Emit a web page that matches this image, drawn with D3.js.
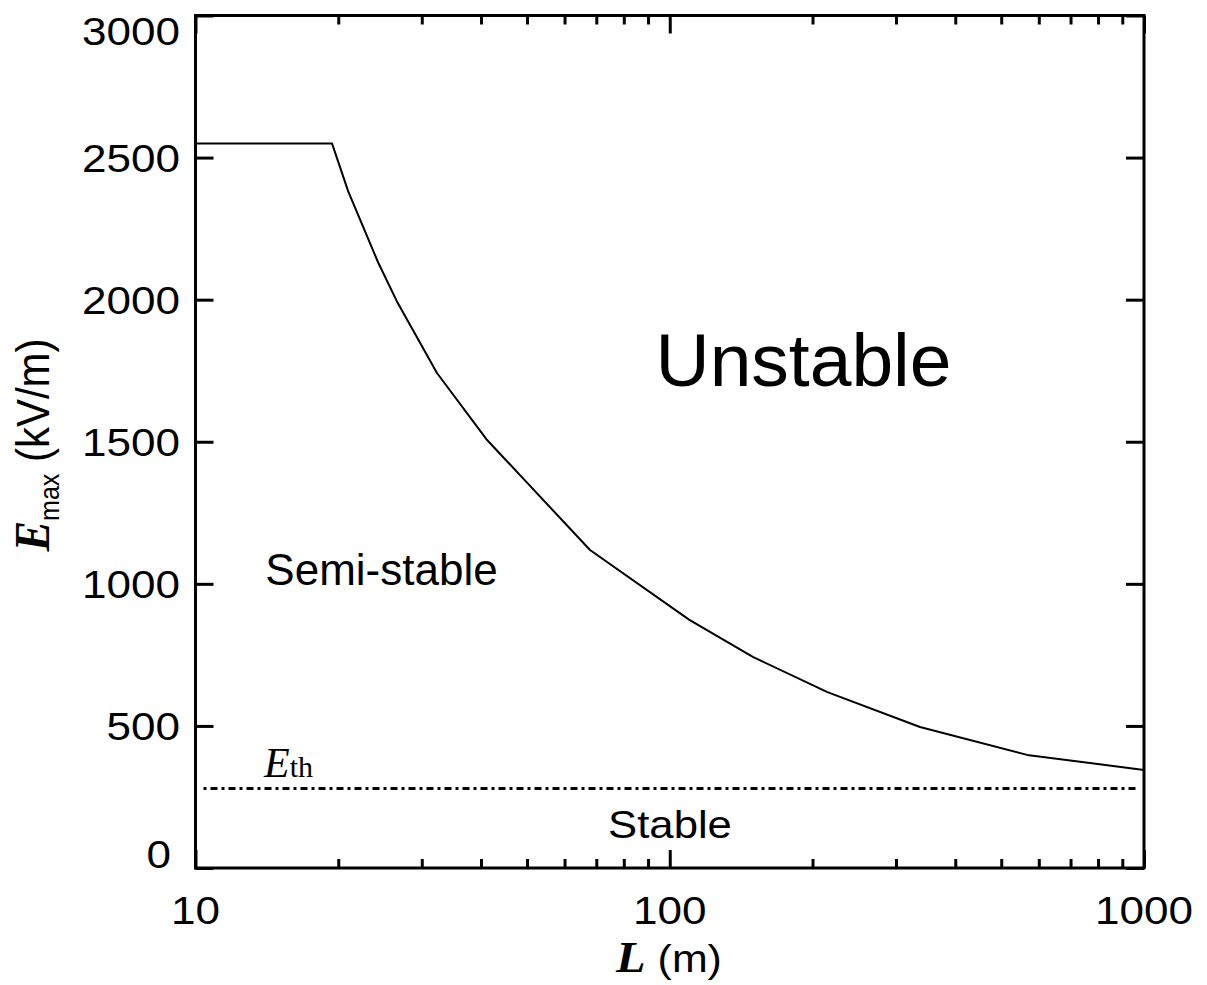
<!DOCTYPE html>
<html>
<head>
<meta charset="utf-8">
<script src="https://cdn.jsdelivr.net/npm/d3@7"></script>
<style>
  body { margin: 0; background: #fff; }
  text { fill: #000; }
</style>
</head>
<body>
<svg id="chart" width="1207" height="985"></svg>
<script>
// Stability boundary: maximum field E_max (kV/m) versus length L (m)
const lengthM = [10, 19.4, 21, 24.3, 26.7, 32.3, 41.2, 49, 67.9, 110, 150, 215, 337, 567, 1000];
const eMax    = [2550, 2550, 2380, 2129, 1988, 1742, 1506, 1372, 1119, 873, 742, 619, 496, 398, 345];

// Threshold field E_th (dotted line)
const eThreshold = 280;

// Axis ticks
const yTicks = [0, 500, 1000, 1500, 2000, 2500, 3000];
const xMajor = [10, 100, 1000];
const xMinor = [20, 30, 40, 50, 60, 70, 80, 90, 200, 300, 400, 500, 600, 700, 800, 900];

// Region names
const regionNames = ["Unstable", "Semi-stable", "Stable"];

const svg = d3.select("#chart");
const plotLeft = 195.5, plotRight = 1144, plotTop = 15.5, plotBottom = 868;

const x = d3.scaleLog().domain([10, 1000]).range([plotLeft, plotRight]);
const y = d3.scaleLinear().domain([0, 3000]).range([plotBottom, plotTop]);

const SANS = "'Liberation Sans', Arial, Helvetica, sans-serif";
const SERIF = "'Liberation Serif', 'Times New Roman', serif";

// ---- ticks (pointing inward) ----
function styleAxis(g) {
  g.select(".domain").remove();
  g.selectAll(".tick line").attr("stroke", "#000").attr("stroke-width", 3);
}
svg.append("g").attr("transform", `translate(${plotLeft},0)`)
  .call(d3.axisLeft(y).tickValues(yTicks).tickSize(-18).tickSizeOuter(0).tickFormat(""))
  .call(styleAxis);
svg.append("g").attr("transform", `translate(${plotRight},0)`)
  .call(d3.axisRight(y).tickValues(yTicks).tickSize(-18).tickSizeOuter(0).tickFormat(""))
  .call(styleAxis);
svg.append("g").attr("transform", `translate(0,${plotBottom})`)
  .call(d3.axisBottom(x).tickValues(xMajor).tickSize(-18).tickSizeOuter(0).tickFormat(""))
  .call(styleAxis);
svg.append("g").attr("transform", `translate(0,${plotBottom})`)
  .call(d3.axisBottom(x).tickValues(xMinor).tickSize(-9).tickSizeOuter(0).tickFormat(""))
  .call(styleAxis);
svg.append("g").attr("transform", `translate(0,${plotTop})`)
  .call(d3.axisTop(x).tickValues(xMajor).tickSize(-18).tickSizeOuter(0).tickFormat(""))
  .call(styleAxis);
svg.append("g").attr("transform", `translate(0,${plotTop})`)
  .call(d3.axisTop(x).tickValues(xMinor).tickSize(-9).tickSizeOuter(0).tickFormat(""))
  .call(styleAxis);

// ---- frame ----
svg.append("rect")
  .attr("x", plotLeft).attr("y", plotTop)
  .attr("width", plotRight - plotLeft).attr("height", plotBottom - plotTop)
  .attr("fill", "none").attr("stroke", "#000").attr("stroke-width", 3);

// ---- tick labels ----
const stretch = 1.13;
svg.append("g").selectAll("text")
  .data(yTicks)
  .join("text")
  .attr("transform", d => {
    let bx = 180, by = y(d) + 14;
    if (d === 0) { bx = 171; by = y(d); }
    if (d === 3000) { by = y(d) + 29.5; }
    return `translate(${bx},${by}) scale(${stretch},1)`;
  })
  .attr("text-anchor", "end")
  .attr("font-family", SANS).attr("font-size", 39)
  .text(d => d);

svg.append("g").selectAll("text")
  .data(xMajor)
  .join("text")
  .attr("transform", d => `translate(${x(d)},924) scale(${stretch},1)`)
  .attr("text-anchor", "middle")
  .attr("font-family", SANS).attr("font-size", 39)
  .text(d => d);

// ---- threshold line ----
svg.append("line")
  .attr("x1", x(10) + 8).attr("x2", x(1000) - 6)
  .attr("y1", y(eThreshold)).attr("y2", y(eThreshold))
  .attr("stroke", "#000").attr("stroke-width", 3)
  .attr("stroke-dasharray", "3,4,7,4");

// ---- boundary curve ----
const pts = lengthM.map((L, i) => [L, eMax[i]]);
svg.append("path")
  .datum(pts)
  .attr("d", d3.line().x(d => x(d[0])).y(d => y(d[1])))
  .attr("fill", "none").attr("stroke", "#000").attr("stroke-width", 2)
  .attr("stroke-linejoin", "round");

// ---- region labels ----
svg.append("text")
  .attr("x", 803.5).attr("y", 386)
  .attr("text-anchor", "middle")
  .attr("font-family", SANS).attr("font-size", 75)
  .text(regionNames[0]);
svg.append("text")
  .attr("x", 381.5).attr("y", 585)
  .attr("text-anchor", "middle")
  .attr("font-family", SANS).attr("font-size", 44)
  .text(regionNames[1]);
svg.append("text")
  .attr("transform", `translate(670,838) scale(1.12,1)`)
  .attr("text-anchor", "middle")
  .attr("font-family", SANS).attr("font-size", 39)
  .text(regionNames[2]);

// ---- E_th label ----
const eth = svg.append("text").attr("x", 264).attr("y", 777);
eth.append("tspan").attr("font-family", SERIF).attr("font-style", "italic").attr("font-size", 42).text("E");
eth.append("tspan").attr("font-family", SERIF).attr("font-size", 30).text("th");

// ---- axis titles ----
const yt = svg.append("text")
  .attr("transform", "translate(49,445) rotate(-90) scale(1,1.08)")
  .attr("text-anchor", "middle");
yt.append("tspan").attr("font-family", SERIF).attr("font-style", "italic").attr("font-weight", "bold").attr("font-size", 46).text("E");
yt.append("tspan").attr("font-family", SANS).attr("font-size", 25).attr("dy", 9).text("max");
yt.append("tspan").attr("font-family", SANS).attr("font-size", 42).attr("dy", -9).text("\u00a0(kV/m)");

const xt = svg.append("text")
  .attr("transform", "translate(669,972) scale(1.1,1)")
  .attr("text-anchor", "middle");
xt.append("tspan").attr("font-family", SERIF).attr("font-style", "italic").attr("font-weight", "bold").attr("font-size", 44).text("L");
xt.append("tspan").attr("font-family", SANS).attr("font-size", 39).text("\u00a0(m)");
</script>
</body>
</html>
